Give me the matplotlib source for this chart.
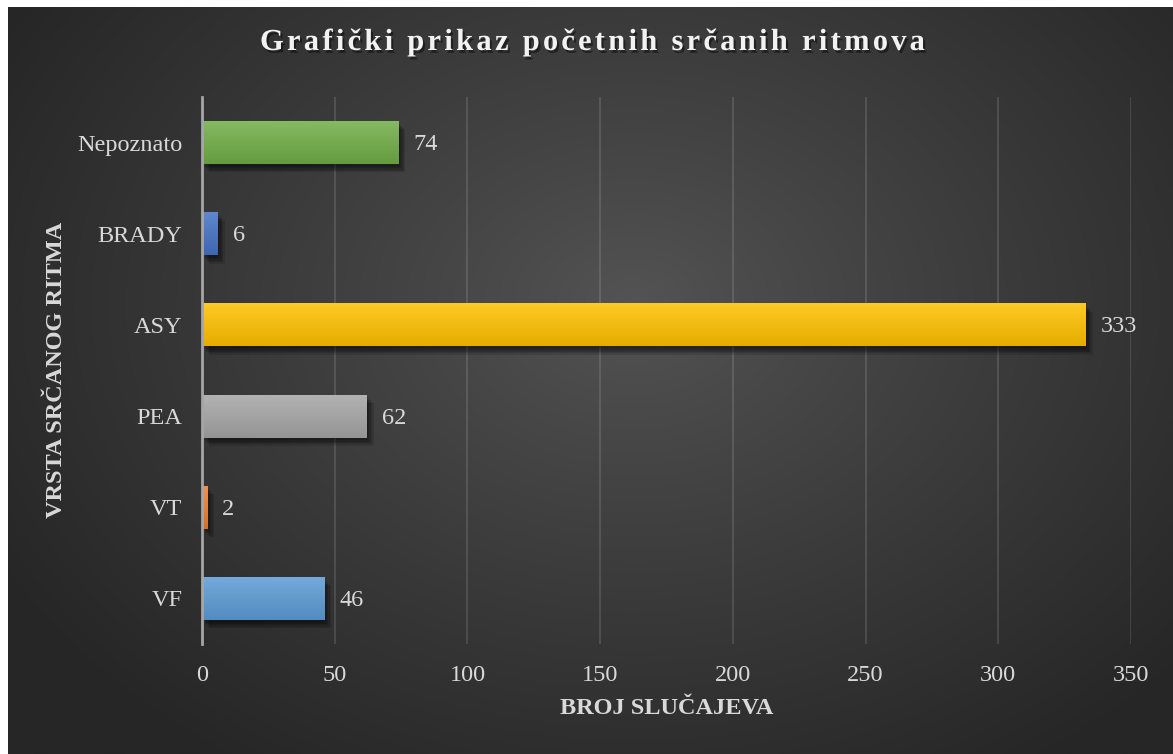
import numpy as np
import matplotlib.pyplot as plt
import matplotlib.patheffects as pe
from matplotlib.colors import to_rgb

# podaci
kategorije = ['VF', 'VT', 'PEA', 'ASY', 'BRADY', 'Nepoznato']
vrijednosti = [46, 2, 62, 333, 6, 74]
boje = ['#5B9BD5', '#ED7D31', '#A5A5A5', '#FFC000', '#4472C4', '#70AD47']
x_ticks = [0, 50, 100, 150, 200, 250, 300, 350]

naslov = 'Grafički prikaz početnih srčanih ritmova'
x_naziv = 'BROJ SLUČAJEVA'
y_naziv = 'VRSTA SRČANOG RITMA'

W, H = 1173, 754
fig = plt.figure(figsize=(W / 100, H / 100), dpi=100, facecolor='white')
plt.rcParams['font.family'] = ['Liberation Serif', 'DejaVu Serif']

# tamna radijalna pozadina
bg = fig.add_axes([8 / W, 0, 1 - 8 / W, 1 - 7 / H])
bg.set_axis_off()
yy, xx = np.mgrid[0:H, 0:W]
r = np.sqrt(((xx - 630) / 740.0) ** 2 + ((yy - 300) / 560.0) ** 2)
r = np.clip(r, 0, 1) ** 0.9
c_in = np.array(to_rgb('#545454'))
c_out = np.array(to_rgb('#262626'))
img = c_in[None, None, :] * (1 - r[..., None]) + c_out[None, None, :] * r[..., None]
bg.imshow(img, aspect='auto', extent=[0, 1, 0, 1], origin='upper')
bg.set_xlim(0, 1)
bg.set_ylim(0, 1)

ax = fig.add_axes([202 / W, 1 - 644 / H, 929 / W, 547 / H])
ax.patch.set_alpha(0)

# mekana sjena ispod traka
sjene = [pe.SimplePatchShadow(offset=(o, -o - 1), alpha=0.13, shadow_rgbFace='black')
         for o in (1, 2, 3, 4, 5)]
ypos = np.arange(len(kategorije))
bars = ax.barh(ypos, vrijednosti, height=0.47, color=boje, zorder=3,
               path_effects=sjene + [pe.Normal()])

# okomiti prelaz boje na svakoj traci
for b, c in zip(bars, boje):
    base = np.array(to_rgb(c))
    top = base + (1 - base) * 0.15
    bot = base * 0.9
    t = np.linspace(0, 1, 64)[:, None]
    grad = (top[None, :] * (1 - t) + bot[None, :] * t)[:, None, :]
    x0, y0 = b.get_x(), b.get_y()
    im = ax.imshow(grad, aspect='auto', zorder=4, origin='upper',
                   extent=[x0, x0 + b.get_width(), y0, y0 + b.get_height()])
    im.set_clip_path(b)

for y, v in zip(ypos, vrijednosti):
    ax.annotate(str(v), (v, y), xytext=(15, -2), textcoords='offset pixels',
                va='center', ha='left', fontsize=17.5, color='#d9d9d9', zorder=5)

ax.set_xlim(0, 350)
ax.set_ylim(-0.5, len(kategorije) - 0.5)
ax.set_xticks(x_ticks)
ax.set_yticks(ypos)
ax.set_yticklabels(kategorije)
ax.tick_params(length=0, labelsize=17.5, labelcolor='#d9d9d9')
ax.tick_params(axis='x', pad=15)
ax.tick_params(axis='y', pad=14)
ax.grid(axis='x', color='#ffffff', alpha=0.12, linewidth=1.5, zorder=0)
for s in ['top', 'right', 'bottom']:
    ax.spines[s].set_visible(False)
ax.spines['left'].set_color('#a6a6a6')
ax.spines['left'].set_linewidth(2)
ax.spines['left'].set_zorder(6)

lbl = dict(color='#d9d9d9', fontsize=17.5, fontweight='bold')
fig.text(667 / W, 1 - 709 / H, x_naziv, ha='center', va='center', **lbl)
fig.text(57 / W, 1 - 370 / H, y_naziv, ha='center', va='center',
         rotation=90, **lbl)

# naslov s razmakom između slova
renderer = fig.canvas.get_renderer()
fp = dict(fontsize=22, fontweight='bold', color='#f2f2f2')
probe = fig.text(0, 0, naslov, **fp)
fprop = probe.get_fontproperties()
probe.remove()


def sirina(s):
    w, _, _ = renderer.get_text_width_height_descent(s + '|', fprop, ismath=False)
    w0, _, _ = renderer.get_text_width_height_descent('|', fprop, ismath=False)
    return w - w0


cilj = 665
prirodna = sirina(naslov)
razmak = (cilj - prirodna) / (len(naslov) - 1)
x_start = 592.5 - cilj / 2
sjena = [pe.withSimplePatchShadow(offset=(1.5, -2), alpha=0.45,
                                  shadow_rgbFace='black')]
for i, ch in enumerate(naslov):
    if ch == ' ':
        continue
    px = x_start + sirina(naslov[:i]) + i * razmak
    fig.text(px / W, 1 - 50 / H, ch, ha='left', va='baseline',
             path_effects=sjena, **fp)

fig.savefig('out.png', dpi=100, facecolor='white')
